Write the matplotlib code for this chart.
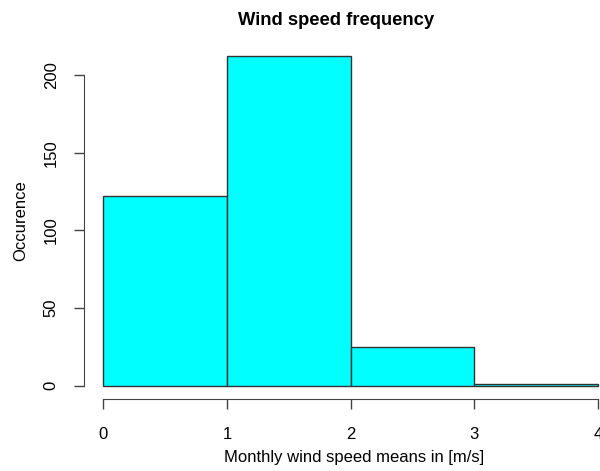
import matplotlib
matplotlib.use('Agg')
import matplotlib.pyplot as plt
import numpy as np

plt.rcParams['font.family'] = ['Liberation Sans', 'DejaVu Sans']

# histogram bins (m/s) and counts
bin_edges = [0, 1, 2, 3, 4]
counts = [122, 212, 25, 1]
y_ticks = [0, 50, 100, 150, 200]
x_ticks = [0, 1, 2, 3, 4]

W, H = 600, 471
fig = plt.figure(figsize=(W / 100, H / 100), dpi=100)
ax = fig.add_axes([83.5 / W, 1 - 399 / H, (617.8 - 83.5) / W, (399 - 43.3) / H])

edges = np.array(bin_edges, dtype=float)
ax.bar(edges[:-1], counts, width=np.diff(edges), align='edge',
       color='#00FFFF', edgecolor='#333333', linewidth=1.0)

ax.set_xlim(-0.16, 4.16)
ax.set_ylim(-0.04 * 212, 212 * 1.04)

for s in ['top', 'right']:
    ax.spines[s].set_visible(False)
ax.spines['left'].set_bounds(0, 200)
ax.spines['bottom'].set_bounds(0, 4)
for s in ['left', 'bottom']:
    ax.spines[s].set_color('#444444')

ax.set_xticks(x_ticks)
ax.set_yticks(y_ticks)
ax.tick_params(axis='both', length=7.5, width=1, color='#444444', labelsize=12)
ax.tick_params(axis='x', pad=12.5)
ax.tick_params(axis='y', pad=10.4)
ax.set_yticklabels([str(v) for v in y_ticks], rotation=90, va='center')

# axis labels placed in figure pixels
ax.set_xlabel('Monthly wind speed means in [m/s]', fontsize=12)
ax.xaxis.set_label_coords(354 / W, 1 - 450 / H, transform=fig.transFigure)
ax.set_ylabel('Occurence', fontsize=12)
ax.yaxis.set_label_coords(28.5 / W, 1 - 221 / H, transform=fig.transFigure)

fig.text(336 / W, 1 - 25 / H, 'Wind speed frequency', ha='center', va='baseline',
         fontsize=13.2, fontweight='bold')

fig.savefig('out.png', dpi=100)
